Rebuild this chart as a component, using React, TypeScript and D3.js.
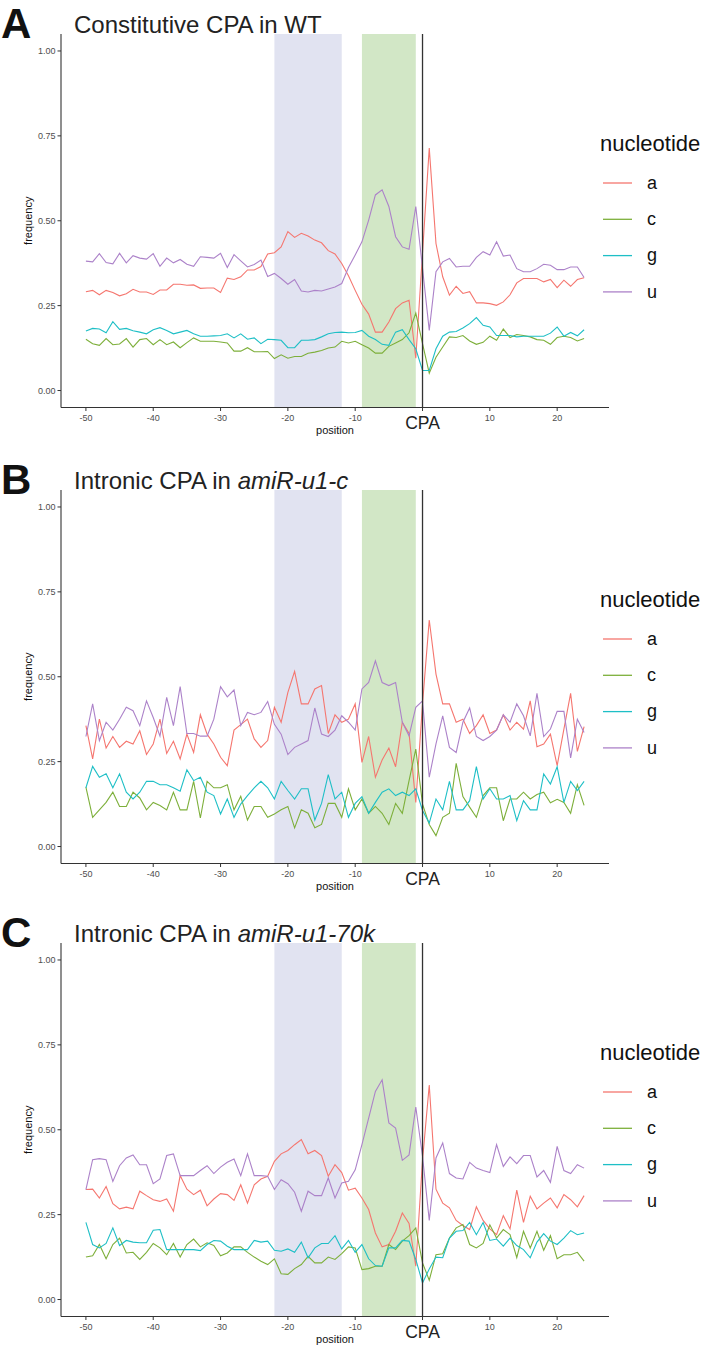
import { useMemo } from "react";
import * as d3 from "d3";

// positions relative to the cleavage/polyadenylation site
const positions = d3.range(-50, 25);
const nucleotides = ["a", "c", "g", "u"];
const colors = ["#F5766F", "#7DAF3A", "#1EBFC6", "#AC82C9"];

// A: constitutive CPA in WT
const wtA = [
  0.291, 0.295, 0.282, 0.295, 0.289, 0.279, 0.285, 0.298, 0.29, 0.29,
  0.283, 0.296, 0.296, 0.313, 0.313, 0.31, 0.311, 0.301, 0.302, 0.302,
  0.289, 0.331, 0.327, 0.335, 0.355, 0.355, 0.365, 0.402, 0.406, 0.423,
  0.468, 0.451, 0.463, 0.455, 0.443, 0.435, 0.412, 0.402, 0.374, 0.338,
  0.295, 0.254, 0.225, 0.172, 0.172, 0.202, 0.241, 0.258, 0.266, 0.095,
  0.405, 0.714, 0.433, 0.335, 0.281, 0.307, 0.286, 0.291, 0.258, 0.258,
  0.256, 0.251, 0.261, 0.282, 0.317, 0.33, 0.33, 0.33, 0.32, 0.327,
  0.303, 0.325, 0.307, 0.327, 0.332,
];
const wtC = [
  0.151, 0.138, 0.133, 0.153, 0.135, 0.137, 0.153, 0.128, 0.15, 0.153,
  0.135, 0.15, 0.135, 0.143, 0.126, 0.141, 0.155, 0.145, 0.145, 0.145,
  0.143, 0.14, 0.116, 0.116, 0.126, 0.114, 0.114, 0.115, 0.094, 0.105,
  0.095, 0.1, 0.1, 0.11, 0.113, 0.118, 0.125, 0.128, 0.145, 0.14,
  0.145, 0.135, 0.125, 0.11, 0.11, 0.13, 0.14, 0.15, 0.17, 0.228,
  0.138, 0.051, 0.098, 0.128, 0.158, 0.156, 0.162, 0.146, 0.136, 0.142,
  0.16, 0.148, 0.181, 0.156, 0.165, 0.162, 0.158, 0.15, 0.148, 0.136,
  0.156, 0.16, 0.156, 0.146, 0.153,
];
const wtG = [
  0.175, 0.183, 0.181, 0.17, 0.203, 0.18, 0.183, 0.176, 0.172, 0.167,
  0.179, 0.185, 0.177, 0.167, 0.172, 0.177, 0.167, 0.16, 0.16, 0.161,
  0.162, 0.167, 0.155, 0.167, 0.151, 0.155, 0.138, 0.151, 0.15, 0.148,
  0.126, 0.126, 0.148, 0.148, 0.15, 0.158, 0.167, 0.171, 0.172, 0.17,
  0.171, 0.177, 0.16, 0.15, 0.136, 0.133, 0.172, 0.179, 0.15, 0.123,
  0.059, 0.059, 0.123, 0.16, 0.172, 0.174, 0.184, 0.197, 0.215, 0.192,
  0.187, 0.162, 0.162, 0.162, 0.158, 0.16, 0.16, 0.16, 0.16, 0.169,
  0.187, 0.16, 0.171, 0.161, 0.179,
];
const wtU = [
  0.381, 0.379, 0.403, 0.377, 0.373, 0.404, 0.376, 0.397, 0.39, 0.387,
  0.403, 0.366, 0.39, 0.376, 0.386, 0.372, 0.366, 0.394, 0.392, 0.39,
  0.404, 0.362, 0.4, 0.382, 0.364, 0.371, 0.384, 0.336, 0.345, 0.33,
  0.313, 0.327, 0.293, 0.29, 0.295, 0.293, 0.299, 0.305, 0.315, 0.362,
  0.399, 0.438, 0.502, 0.576, 0.591, 0.542, 0.453, 0.423, 0.416, 0.542,
  0.36, 0.177, 0.35, 0.379, 0.389, 0.364, 0.366, 0.366, 0.392, 0.409,
  0.399, 0.438, 0.396, 0.399, 0.359, 0.35, 0.35, 0.359, 0.372, 0.369,
  0.356, 0.356, 0.364, 0.364, 0.333,
];

// B: intronic CPA in amiR-u1-c
const u1cA = [
  0.356, 0.258, 0.375, 0.29, 0.324, 0.292, 0.31, 0.302, 0.341, 0.271,
  0.302, 0.375, 0.274, 0.31, 0.258, 0.331, 0.277, 0.388, 0.331, 0.302,
  0.263, 0.238, 0.343, 0.359, 0.375, 0.317, 0.292, 0.312, 0.41, 0.366,
  0.454, 0.516, 0.42, 0.42, 0.464, 0.474, 0.333, 0.388, 0.366, 0.375,
  0.42, 0.248, 0.324, 0.204, 0.255, 0.29, 0.235, 0.366, 0.333, 0.13,
  0.42, 0.667, 0.508, 0.42, 0.42, 0.366, 0.375, 0.333, 0.356, 0.388,
  0.333, 0.343, 0.388, 0.343, 0.366, 0.346, 0.429, 0.294, 0.302, 0.331,
  0.238, 0.346, 0.451, 0.28, 0.353,
];
const u1cC = [
  0.175, 0.086, 0.108, 0.13, 0.16, 0.118, 0.118, 0.16, 0.143, 0.108,
  0.13, 0.121, 0.108, 0.16, 0.108, 0.108, 0.192, 0.084, 0.192, 0.173,
  0.173, 0.182, 0.108, 0.148, 0.078, 0.118, 0.118, 0.086, 0.096, 0.108,
  0.118, 0.055, 0.108, 0.098, 0.055, 0.065, 0.127, 0.127, 0.086, 0.17,
  0.108, 0.14, 0.098, 0.118, 0.098, 0.065, 0.127, 0.098, 0.194, 0.287,
  0.125, 0.065, 0.032, 0.086, 0.098, 0.245, 0.147, 0.116, 0.086, 0.15,
  0.173, 0.173, 0.076, 0.14, 0.14, 0.16, 0.14, 0.153, 0.16, 0.129,
  0.139, 0.13, 0.098, 0.182, 0.121,
];
const u1cG = [
  0.173, 0.236, 0.204, 0.214, 0.173, 0.214, 0.16, 0.14, 0.16, 0.192,
  0.192, 0.182, 0.182, 0.173, 0.163, 0.226, 0.194, 0.204, 0.16, 0.15,
  0.096, 0.14, 0.086, 0.125, 0.15, 0.173, 0.192, 0.173, 0.14, 0.192,
  0.165, 0.14, 0.17, 0.17, 0.078, 0.127, 0.212, 0.14, 0.16, 0.086,
  0.127, 0.147, 0.098, 0.13, 0.16, 0.17, 0.15, 0.16, 0.15, 0.17,
  0.106, 0.069, 0.14, 0.108, 0.192, 0.108, 0.108, 0.135, 0.235, 0.14,
  0.17, 0.14, 0.14, 0.15, 0.076, 0.135, 0.108, 0.108, 0.214, 0.184,
  0.235, 0.13, 0.192, 0.165, 0.192,
];
const u1cU = [
  0.324, 0.42, 0.312, 0.366, 0.343, 0.375, 0.41, 0.4, 0.356, 0.429,
  0.38, 0.325, 0.439, 0.356, 0.471, 0.333, 0.333, 0.325, 0.325, 0.375,
  0.471, 0.441, 0.461, 0.356, 0.395, 0.388, 0.395, 0.427, 0.36, 0.331,
  0.271, 0.292, 0.302, 0.312, 0.408, 0.331, 0.324, 0.343, 0.385, 0.366,
  0.343, 0.464, 0.483, 0.547, 0.483, 0.474, 0.483, 0.366, 0.326, 0.41,
  0.429, 0.204, 0.302, 0.385, 0.292, 0.277, 0.366, 0.408, 0.324, 0.312,
  0.324, 0.343, 0.388, 0.366, 0.42, 0.385, 0.326, 0.451, 0.324, 0.346,
  0.398, 0.398, 0.261, 0.375, 0.336,
];

// C: intronic CPA in amiR-u1-70k
const u70kA = [
  0.324, 0.325, 0.299, 0.333, 0.282, 0.267, 0.272, 0.267, 0.319, 0.306,
  0.294, 0.289, 0.296, 0.26, 0.365, 0.325, 0.309, 0.322, 0.276, 0.296,
  0.312, 0.309, 0.292, 0.338, 0.284, 0.338, 0.355, 0.363, 0.407, 0.429,
  0.439, 0.456, 0.471, 0.429, 0.439, 0.424, 0.363, 0.397, 0.374, 0.322,
  0.328, 0.299, 0.265, 0.196, 0.155, 0.162, 0.201, 0.255, 0.224, 0.098,
  0.41, 0.632, 0.325, 0.284, 0.27, 0.233, 0.218, 0.206, 0.273, 0.233,
  0.208, 0.191, 0.247, 0.208, 0.322, 0.227, 0.304, 0.267, 0.284, 0.299,
  0.27, 0.309, 0.294, 0.273, 0.306,
];
const u70kC = [
  0.125, 0.129, 0.162, 0.12, 0.162, 0.181, 0.137, 0.139, 0.118, 0.139,
  0.165, 0.152, 0.132, 0.165, 0.125, 0.162, 0.178, 0.155, 0.167, 0.159,
  0.129, 0.137, 0.155, 0.155, 0.139, 0.125, 0.113, 0.103, 0.12, 0.076,
  0.074, 0.091, 0.103, 0.127, 0.108, 0.108, 0.125, 0.118, 0.135, 0.155,
  0.152, 0.088, 0.091, 0.098, 0.098, 0.162, 0.147, 0.172, 0.188, 0.211,
  0.108, 0.057, 0.132, 0.135, 0.181, 0.211, 0.221, 0.162, 0.152, 0.165,
  0.22, 0.181, 0.206, 0.191, 0.123, 0.201, 0.152, 0.201, 0.145, 0.188,
  0.12, 0.132, 0.132, 0.139, 0.113,
];
const u70kG = [
  0.227, 0.162, 0.152, 0.165, 0.211, 0.159, 0.174, 0.169, 0.167, 0.167,
  0.204, 0.206, 0.147, 0.147, 0.147, 0.147, 0.147, 0.144, 0.162, 0.174,
  0.172, 0.157, 0.147, 0.147, 0.147, 0.174, 0.169, 0.172, 0.145, 0.142,
  0.149, 0.139, 0.169, 0.123, 0.152, 0.165, 0.165, 0.188, 0.149, 0.174,
  0.139, 0.162, 0.12, 0.1, 0.098, 0.152, 0.152, 0.174, 0.172, 0.118,
  0.049, 0.09, 0.125, 0.123, 0.181, 0.201, 0.203, 0.227, 0.191, 0.227,
  0.174, 0.178, 0.157, 0.181, 0.159, 0.147, 0.123, 0.169, 0.194, 0.172,
  0.162, 0.181, 0.203, 0.191, 0.196,
];
const u70kU = [
  0.324, 0.412, 0.415, 0.412, 0.348, 0.394, 0.417, 0.426, 0.397, 0.397,
  0.341, 0.355, 0.424, 0.429, 0.365, 0.365, 0.365, 0.38, 0.394, 0.371,
  0.39, 0.404, 0.414, 0.365, 0.429, 0.365, 0.365, 0.363, 0.324, 0.353,
  0.341, 0.316, 0.26, 0.319, 0.306, 0.306, 0.358, 0.299, 0.343, 0.348,
  0.382, 0.456, 0.534, 0.613, 0.647, 0.52, 0.505, 0.41, 0.426, 0.567,
  0.422, 0.233, 0.417, 0.461, 0.371, 0.358, 0.355, 0.404, 0.387, 0.38,
  0.374, 0.456, 0.392, 0.42, 0.4, 0.424, 0.424, 0.361, 0.38, 0.345,
  0.451, 0.38, 0.371, 0.397, 0.387,
];

const yTicks = [0, 0.25, 0.5, 0.75, 1];
const xTicks = [-50, -40, -30, -20, -10, 0, 10, 20];
const boxes = [
  { from: -22, to: -12, fill: "#E1E3F1" },
  { from: -9, to: -1, fill: "#D2E7C6" },
];

const panels = [
  { letter: "A", title: "Constitutive CPA in WT", italic: "", series: [wtA, wtC, wtG, wtU] },
  { letter: "B", title: "Intronic CPA in ", italic: "amiR-u1-c", series: [u1cA, u1cC, u1cG, u1cU] },
  { letter: "C", title: "Intronic CPA in ", italic: "amiR-u1-70k", series: [u70kA, u70kC, u70kG, u70kU] },
];
const panelTops = [0, 456, 909];

const font = "'Liberation Sans', Arial, Helvetica, sans-serif";

const Panel = ({ top, letter, title, italic, series }: any) => {
  const left = 61;
  const right = 609;
  const plotTop = 34;
  const plotBottom = 407.5;

  const xScale = useMemo(
    () => d3.scaleLinear().domain([-53.7, 27.7]).range([left, right]),
    []
  );
  const yScale = useMemo(
    () => d3.scaleLinear().domain([-0.05, 1.05]).range([plotBottom, plotTop]),
    []
  );
  const line = d3
    .line<number>()
    .x((_, i) => xScale(positions[i]))
    .y((d) => yScale(d));

  return (
    <g transform={`translate(0, ${top})`} fontFamily={font}>
      <text x={1} y={38} fontSize={42} fontWeight="bold" fill="#111">
        {letter}
      </text>
      <text x={74} y={33} fontSize={24} fill="#222">
        {title}
        {italic && <tspan fontStyle="italic">{italic}</tspan>}
      </text>

      {boxes.map((b) => (
        <rect
          key={b.from}
          x={xScale(b.from)}
          y={plotTop}
          width={xScale(b.to) - xScale(b.from)}
          height={plotBottom - plotTop}
          fill={b.fill}
        />
      ))}

      {series.map((s: number[], i: number) => (
        <path
          key={nucleotides[i]}
          d={line(s) || ""}
          fill="none"
          stroke={colors[i]}
          strokeWidth={1.1}
        />
      ))}

      <line
        x1={xScale(0)}
        x2={xScale(0)}
        y1={plotTop}
        y2={plotBottom}
        stroke="#333"
        strokeWidth={1.3}
      />

      {/* y axis */}
      <line x1={left} x2={left} y1={plotTop} y2={plotBottom} stroke="#333" strokeWidth={1.1} />
      {yTicks.map((t) => (
        <g key={t}>
          <line x1={left - 3.5} x2={left} y1={yScale(t)} y2={yScale(t)} stroke="#333" strokeWidth={1} />
          <text
            x={left - 5.5}
            y={yScale(t)}
            dy="0.35em"
            textAnchor="end"
            fontSize={9}
            fill="#4D4D4D"
          >
            {d3.format(".2f")(t)}
          </text>
        </g>
      ))}
      <text
        transform={`translate(32, ${(plotTop + plotBottom) / 2}) rotate(-90)`}
        textAnchor="middle"
        fontSize={11}
        fill="#111"
      >
        frequency
      </text>

      {/* x axis */}
      <line x1={left} x2={right} y1={plotBottom} y2={plotBottom} stroke="#333" strokeWidth={1.1} />
      {xTicks.map((t) => (
        <g key={t}>
          <line x1={xScale(t)} x2={xScale(t)} y1={plotBottom} y2={plotBottom + 3.5} stroke="#333" strokeWidth={1} />
          {t === 0 ? (
            <text x={xScale(t)} y={plotBottom + 21} textAnchor="middle" fontSize={17.5} fill="#222">
              CPA
            </text>
          ) : (
            <text x={xScale(t)} y={plotBottom + 13} textAnchor="middle" fontSize={9} fill="#4D4D4D">
              {t}
            </text>
          )}
        </g>
      ))}
      <text x={(left + right) / 2} y={plotBottom + 26} textAnchor="middle" fontSize={11} fill="#111">
        position
      </text>

      {/* legend */}
      <text x={600} y={151} fontSize={22} fill="#111">
        nucleotide
      </text>
      {nucleotides.map((n, i) => (
        <g key={n} transform={`translate(0, ${183 + i * 36.3})`}>
          <line x1={603} x2={632} y1={0} y2={0} stroke={colors[i]} strokeWidth={1.3} />
          <text x={647} y={0} dy="0.32em" fontSize={18} fill="#111">
            {n}
          </text>
        </g>
      ))}
    </g>
  );
};

const App = () => {
  return (
    <svg
      width={704}
      height={1345}
      viewBox="0 0 704 1345"
      style={{ position: "absolute", left: 0, top: 0, background: "#fff" }}
    >
      <rect width={704} height={1345} fill="#fff" />
      {panels.map((p, i) => (
        <Panel key={p.letter} top={panelTops[i]} {...p} />
      ))}
    </svg>
  );
};

export default App;
